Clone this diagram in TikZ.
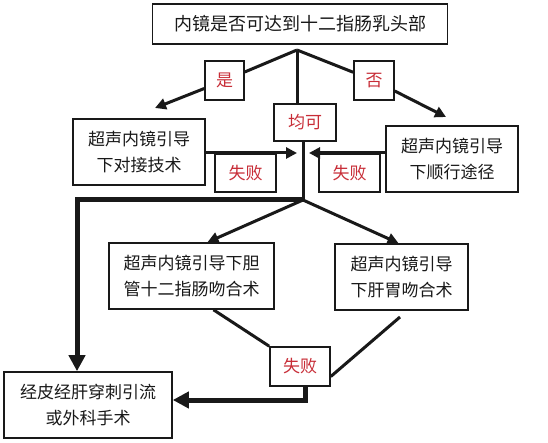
\documentclass[tikz,border=0pt]{standalone}
\usepackage{fontspec}
\newfontfamily\cjk{Noto Sans CJK SC}
\usetikzlibrary{arrows.meta}
\definecolor{lbl}{RGB}{200,45,55}
\definecolor{ink}{RGB}{25,25,25}
\tikzset{
  box/.style={draw=ink, line width=1.6pt, fill=white, inner sep=0pt, align=center, text=ink,
    font=\cjk\fontsize{17}{26}\selectfont},
  lab/.style={box, text=lbl},
  conn/.style={draw=ink, line width=3pt},
  connarrow/.style={conn, -{Triangle[length=11pt,width=11pt]}},
  thickarrow/.style={draw=ink, line width=5pt, -{Triangle[length=16pt,width=16pt]}},
}
\begin{document}
\begin{tikzpicture}[x=1pt,y=-1pt]
\useasboundingbox[fill=white] (0,0) rectangle (548,443);
% nodes
\node[box, minimum width=295, minimum height=40, font=\cjk\fontsize{18}{22}\selectfont] (top) at (300,24) {内镜是否可达到十二指肠乳头部};
\node[lab, minimum width=39, minimum height=39] (shi) at (224.5,80.5) {是};
\node[lab, minimum width=40, minimum height=39] (fou) at (374,80.5) {否};
\node[lab, minimum width=62, minimum height=37] (junke) at (305,122.5) {均可};
\node[box, minimum width=132, minimum height=66] (L1) at (139,152) {超声内镜引导\\下对接技术};
\node[box, minimum width=132, minimum height=66] (R1) at (452,159) {超声内镜引导\\下顺行途径};
\node[lab, minimum width=61, minimum height=38] (f1) at (245.5,173) {失败};
\node[lab, minimum width=61, minimum height=38] (f2) at (349.5,173) {失败};
\node[box, minimum width=165, minimum height=66] (L2) at (191.5,276) {超声内镜引导下胆\\管十二指肠吻合术};
\node[box, minimum width=133, minimum height=66] (R2) at (401.5,277) {超声内镜引导\\下肝胃吻合术};
\node[lab, minimum width=60, minimum height=39] (f3) at (300,366.5) {失败};
\node[box, minimum width=168, minimum height=66] (bot) at (88,405) {经皮经肝穿刺引流\\或外科手术};
% coordinates
\coordinate (split) at (297,50);
\coordinate (tipL) at (155,108);
\coordinate (tipR) at (446,117);
\coordinate (J) at (303,200);
\coordinate (mL) at (297,153);
\coordinate (mR) at (309,153);
\coordinate (cL) at (77,200);
\coordinate (r2b) at (400,317);
\coordinate (c2) at (305,400);
% connectors
\draw[conn] (split) -- (shi);
\draw[connarrow] (shi) -- (tipL);
\draw[conn] (split) -- (fou);
\draw[connarrow] (fou) -- (tipR);
\draw[conn] (split) -- (split |- junke.north);
\draw[conn] (J |- junke.south) -- (J);
\draw[connarrow] (L1.east |- mL) -- (mL);
\draw[connarrow] (R1.west |- mR) -- (mR);
\draw[thickarrow] (J) -- (cL) -- (cL |- bot.north);
\draw[connarrow] (J) -- ([xshift=16]L2.north);
\draw[connarrow] (J) -- ([xshift=-3]R2.north);
\draw[conn] ([xshift=22]L2.south) -- (f3.north west);
\draw[conn] (r2b) -- ([yshift=-10]f3.east);
\draw[thickarrow] (f3.south -| c2) -- (c2) -- (c2 -| bot.east);
\end{tikzpicture}
\end{document}
